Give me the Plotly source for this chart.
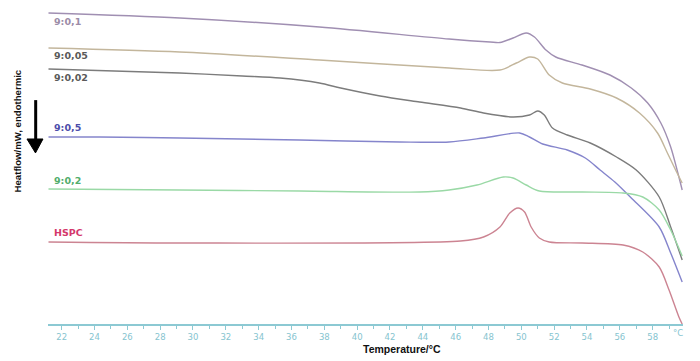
import plotly.graph_objects as go

# Temperature (°C) and heat flow (arbitrary offset units)
temp_01 = [21.2, 29.2, 37.7, 45.6, 48.1, 48.7, 49.5, 50.3, 50.8, 51.5, 52.1, 53.7, 55.4, 56.7, 57.7, 58.5, 59.1, 59.6, 59.8]
hf_01 = [31.1, 30.6, 29.7, 28.5, 28.2, 28.15, 28.6, 29.1, 28.7, 27.4, 26.7, 25.9, 24.9, 23.6, 22.1, 20.1, 17.7, 14.7, 13.4]

temp_005 = [21.2, 29.2, 37.7, 45.6, 48.7, 49.7, 50.5, 51.0, 51.7, 52.5, 54.2, 55.8, 57.2, 58.3, 58.9, 59.4, 59.8]
hf_005 = [27.6, 27.2, 26.4, 25.6, 25.4, 26.1, 26.7, 26.5, 24.9, 24.1, 23.5, 22.6, 21.1, 19.1, 17.1, 15.4, 14.1]

temp_002 = [21.2, 29.2, 33.0, 35.3, 37.7, 39.0, 41.4, 43.8, 46.3, 47.7, 49.5, 50.5, 51.0, 51.4, 51.9, 52.8, 54.2, 55.8, 57.0, 58.4, 59.1, 59.8]
hf_002 = [25.5, 25.1, 24.8, 24.6, 24.1, 23.6, 22.8, 22.2, 21.6, 21.1, 20.7, 20.9, 21.3, 20.9, 19.6, 18.9, 18.1, 16.7, 15.4, 12.7, 9.7, 6.4]

temp_05 = [21.2, 24.3, 29.2, 36.5, 42.6, 45.6, 47.7, 49.9, 50.5, 51.3, 52.8, 53.9, 54.8, 55.7, 56.7, 58.4, 59.1, 59.8]
hf_05 = [18.7, 18.7, 18.6, 18.4, 18.2, 18.2, 18.6, 19.1, 18.7, 18.0, 17.4, 16.6, 15.4, 14.2, 12.6, 9.7, 7.1, 4.2]

temp_02 = [21.2, 29.2, 36.5, 43.8, 45.6, 47.3, 48.9, 49.5, 50.3, 51.1, 53.7, 56.2, 57.4, 58.4, 59.1, 59.8]
hf_02 = [13.5, 13.4, 13.3, 13.2, 13.4, 13.9, 14.7, 14.6, 13.9, 13.3, 13.2, 13.1, 12.7, 11.4, 9.4, 6.8]

temp_hspc = [21.2, 29.2, 46.3, 47.7, 48.7, 49.3, 49.8, 50.2, 50.6, 51.1, 51.7, 53.7, 56.2, 57.4, 58.4, 59.0, 59.6, 59.8]
hf_hspc = [8.2, 8.1, 8.3, 8.7, 9.7, 11.1, 11.6, 11.2, 9.7, 8.6, 8.2, 8.1, 7.9, 7.2, 5.7, 3.4, 0.7, 0.0]

series_names = ["9:0,1", "9:0,05", "9:0,02", "9:0,5", "9:0,2", "HSPC"]
series_x = [temp_01, temp_005, temp_002, temp_05, temp_02, temp_hspc]
series_y = [hf_01, hf_005, hf_002, hf_05, hf_02, hf_hspc]
line_colors = ["#a08fb2", "#c3b69c", "#7c7c7c", "#8585cc", "#9ad9a6", "#cc8492"]
label_colors = ["#9c8ca8", "#5a5a5a", "#5a5a5a", "#4d4daa", "#52ad6c", "#d4386c"]
label_y = [0.935, 0.830, 0.762, 0.605, 0.444, 0.281]

x_ticks = list(range(22, 60, 2))

fig = go.Figure()
for name, xs, ys, col in zip(series_names, series_x, series_y, line_colors):
    fig.add_trace(go.Scatter(x=xs, y=ys, mode="lines", name=name,
                             line=dict(color=col, width=1.4, shape="spline", smoothing=0.8)))

annotations = []
for name, col, ly in zip(series_names, label_colors, label_y):
    annotations.append(dict(text="<b>%s</b>" % name, xref="paper", yref="paper",
                            x=0.0063, y=ly, xanchor="left", yanchor="middle", showarrow=False,
                            font=dict(family="DejaVu Sans", size=9.5, color=col)))
annotations.append(dict(text="°C", xref="paper", yref="paper", x=0.992, y=-0.028,
                        xanchor="center", yanchor="middle", showarrow=False,
                        font=dict(family="DejaVu Sans", size=8.5, color="#86c4cf")))
annotations.append(dict(text="<b>Temperature/°C</b>", xref="paper", yref="paper", x=0.557, y=-0.076,
                        xanchor="center", yanchor="middle", showarrow=False,
                        font=dict(family="Liberation Sans", size=10.5, color="#111111")))
annotations.append(dict(text="<b>Heatflow/mW, endothermic</b>", xref="paper", yref="paper",
                        x=-0.048, y=0.596, xanchor="center", yanchor="middle", showarrow=False,
                        textangle=-90,
                        font=dict(family="Liberation Sans Narrow, Liberation Sans", size=9.6, color="#111111")))

shapes = [
    dict(type="line", xref="paper", yref="paper", x0=-0.0194, x1=-0.0194, y0=0.691, y1=0.565,
         line=dict(color="black", width=3)),
    dict(type="path", xref="paper", yref="paper",
         path="M -0.0331 0.571 L -0.0079 0.571 L -0.0197 0.528 Z",
         fillcolor="black", line=dict(color="black", width=1)),
]

fig.update_layout(
    width=700, height=361,
    margin=dict(l=48, r=17, t=0, b=37),
    paper_bgcolor="white", plot_bgcolor="white",
    showlegend=False,
    annotations=annotations,
    shapes=shapes,
    xaxis=dict(range=[21.17, 59.85], tickmode="array", tickvals=x_ticks,
               ticktext=[str(t) for t in x_ticks],
               showgrid=False, zeroline=False, showline=True, linecolor="#8cc9d3", linewidth=1.5,
               ticks="outside", ticklen=4, tickcolor="#8cc9d3", tickwidth=1,
               tickfont=dict(family="DejaVu Sans", size=8.5, color="#86c4cf"),
               minor=dict(tickmode="array", tickvals=list(range(23, 60, 2)), ticks="outside",
                          ticklen=3, tickcolor="#8cc9d3", tickwidth=1)),
    yaxis=dict(range=[0, 32.4], showgrid=False, zeroline=False, showline=False,
               showticklabels=False, ticks=""),
)

fig.write_html("out.html", config={"displayModeBar": False},
               post_script="document.body.style.margin='0';document.body.style.overflow='hidden';")
